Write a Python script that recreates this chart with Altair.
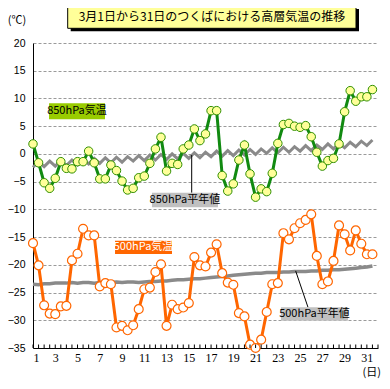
import altair as alt
import pandas as pd

# observation times (day of month, 09 and 21 JST -> half-day steps)
obs_x = [1, 1.5, 2, 2.5, 3, 3.5, 4, 4.5, 5, 5.5, 6, 6.5, 7, 7.5, 8, 8.5,
         9, 9.5, 10, 10.5, 11, 11.5, 12, 12.5, 13, 13.5, 14, 14.5, 15, 15.5,
         16, 16.5, 17, 17.5, 18, 18.5, 19, 19.5, 20, 20.5, 21, 21.5, 22, 22.5,
         23, 23.5, 24, 24.5, 25, 25.5, 26, 26.5, 27, 27.5, 28, 28.5, 29, 29.5,
         30, 30.5, 31, 31.5]

t850 = [1.8, -1.6, -5.2, -6.2, -4.4, -1.4, -2.6, -2.7, -1.4, -1.4,
        0.5, -1.6, -4.5, -4.5, -2.0, -3.0, -4.9, -6.5, -6.2, -4.3,
        -4.0, -1.7, 0.9, 3.0, -3.1, -1.7, -1.9, 0.9, 1.6, 4.5,
        2.4, 3.6, 7.8, 7.8, -3.9, -6.7, -5.4, -1.1, 1.6, -3.6,
        -7.8, -6.3, -6.8, -3.5, 1.9, 5.3, 5.5, 5.0, 4.8, 5.1,
        3.1, 0.3, -2.2, -1.2, -0.8, 1.8, 7.6, 11.4, 9.5, 10.3,
        10.3, 11.6]

n850 = [-2.4, -1.4, -2.3, -1.3, -2.2, -1.2, -2.1, -1.1, -2.0, -1.0,
        -1.8, -0.8, -1.7, -0.7, -1.6, -0.6, -1.5, -0.5, -1.3, -0.3,
        -1.2, -0.2, -1.1, -0.1, -1.0, 0.0, -0.9, 0.1, -0.8, 0.2,
        -0.7, 0.3, -0.5, 0.5, -0.4, 0.6, -0.3, 0.7, -0.2, 0.8,
        -0.1, 0.9, 0.1, 1.1, 0.2, 1.2, 0.3, 1.3, 0.5, 1.5,
        0.6, 1.6, 0.8, 1.8, 0.9, 1.9, 1.1, 2.1, 1.3, 2.3,
        1.5, 2.5]

t500 = [-16.1, -20.1, -27.3, -28.8, -28.9, -27.5, -27.4, -19.2, -18.0, -13.5,
        -14.7, -14.7, -23.9, -23.3, -23.5, -31.3, -31.0, -31.8, -30.9, -28.0,
        -24.4, -24.1, -21.3, -19.9, -31.0, -27.2, -28.0, -27.7, -26.9, -18.6,
        -20.1, -20.3, -17.8, -16.3, -21.5, -23.2, -23.6, -28.7, -29.3, -34.4,
        -35.0, -33.5, -28.5, -23.5, -23.3, -14.3, -15.4, -13.4, -12.5, -11.9,
        -10.9, -18.4, -23.5, -23.0, -19.3, -12.9, -14.5, -17.4, -13.8, -16.2,
        -18.1, -18.1]

n500 = [-23.5, -23.6, -23.4, -23.4, -23.3, -23.3, -23.3, -23.2, -23.3, -23.2,
        -23.2, -23.3, -23.2, -23.2, -23.2, -23.1, -23.2, -23.1, -23.1, -23.2,
        -23.1, -23.0, -23.0, -22.9, -22.9, -22.8, -22.7, -22.7, -22.6, -22.5,
        -22.5, -22.4, -22.3, -22.2, -22.1, -22.0, -21.9, -21.8, -21.7, -21.6,
        -21.5, -21.5, -21.4, -21.4, -21.4, -21.3, -21.3, -21.2, -21.2, -21.2,
        -21.1, -21.1, -21.0, -21.0, -20.9, -20.9, -20.8, -20.7, -20.6, -20.5,
        -20.4, -20.2]

day_labels = [1, 3, 5, 7, 9, 11, 13, 15, 17, 19, 21, 23, 25, 27, 29, 31]
y_ticks = [-35, -30, -25, -20, -15, -10, -5, 0, 5, 10, 15, 20]
tick_pos = obs_x + [32]

title_text = "3月1日から31日のつくばにおける高層気温の推移"

W, H = 345, 305
JP = "Noto Sans CJK JP"

rows = []
for name, vals in [("t850", t850), ("n850", n850), ("t500", t500), ("n500", n500)]:
    for xv, v in zip(obs_x, vals):
        rows.append({"x": xv, "v": v, "s": name})
df = pd.DataFrame(rows)

X = alt.X("x:Q", scale=alt.Scale(domain=[1, 32], nice=False, zero=False),
          axis=alt.Axis(values=day_labels, title=None, grid=False, ticks=False,
                        labelFont="Liberation Serif", labelFontSize=12,
                        labelColor="#000000", labelPadding=4, labelAngle=0,
                        domainColor="#000000", domainWidth=1))
Y = alt.Y("v:Q", scale=alt.Scale(domain=[-35, 20], nice=False, zero=False),
          axis=alt.Axis(values=y_ticks, title=None, grid=True, gridDash=[3, 2],
                        gridColor="#9a9a9a", gridWidth=1, ticks=False,
                        labelFont="Liberation Sans", labelFontSize=10.5,
                        labelColor="#000000", labelPadding=8,
                        domainColor="#000000", domainWidth=1))

base = alt.Chart(df).encode(x=X, y=Y)

n850_line = base.transform_filter(alt.datum.s == "n850").mark_line(
    color="#8a8a8a", strokeWidth=3)
n500_line = base.transform_filter(alt.datum.s == "n500").mark_line(
    color="#8a8a8a", strokeWidth=3.5)
t850_line = base.transform_filter(alt.datum.s == "t850").mark_line(
    color="#118a11", strokeWidth=3)
t850_pts = base.transform_filter(alt.datum.s == "t850").mark_point(
    shape="circle", filled=True, fill="#FFFF99", stroke="#2f8f00",
    strokeWidth=1, size=72, opacity=1)
t500_line = base.transform_filter(alt.datum.s == "t500").mark_line(
    color="#FF6600", strokeWidth=3)
t500_pts = base.transform_filter(alt.datum.s == "t500").mark_point(
    shape="circle", filled=True, fill="#FFFFFF", stroke="#FF6600",
    strokeWidth=1.2, size=80, opacity=1)

# inward minor ticks on x axis
ticks = alt.Chart(pd.DataFrame({"x": tick_pos})).mark_rule(
    color="#000000", strokeWidth=1).encode(
    x=X, y=alt.value(H), y2=alt.value(H - 3.5))

# annotation label boxes (data coordinates)
boxes = pd.DataFrame([
    {"x": 2.44, "x2": 7.47, "v": 9.15, "v2": 6.25, "c": "#99CC00"},
    {"x": 11.69, "x2": 17.62, "v": -7.0, "v2": -9.63, "c": "#C0C0C0"},
    {"x": 8.37, "x2": 13.49, "v": -15.65, "v2": -18.05, "c": "#FF6600"},
    {"x": 23.28, "x2": 29.30, "v": -27.66, "v2": -30.08, "c": "#C0C0C0"},
])
box_layer = alt.Chart(boxes).mark_rect().encode(
    x=X, x2="x2:Q", y=Y, y2="v2:Q",
    color=alt.Color("c:N", scale=None))

labels = pd.DataFrame([
    {"x": 4.95, "v": 7.7, "t": "850hPa気温", "c": "#000000"},
    {"x": 14.65, "v": -8.3, "t": "850hPa平年値", "c": "#000000"},
    {"x": 10.93, "v": -16.85, "t": "500hPa気温", "c": "#FFFFFF"},
    {"x": 26.29, "v": -28.87, "t": "500hPa平年値", "c": "#000000"},
])
label_layer = alt.Chart(labels).mark_text(
    font=JP, fontSize=11, align="center", baseline="middle").encode(
    x=X, y=Y, text="t:N", color=alt.Color("c:N", scale=None))

leaders = pd.DataFrame([
    {"x": 15.26, "x2": 15.26, "v": -0.2, "v2": -7.0},
    {"x": 24.6, "x2": 25.71, "v": -21.1, "v2": -27.66},
])
leader_layer = alt.Chart(leaders).mark_rule(color="#000000", strokeWidth=1).encode(
    x=X, x2="x2:Q", y=Y, y2="v2:Q")

one = pd.DataFrame({"k": [0]})
shadow = alt.Chart(one).mark_rect(color="#000000").encode(
    x=alt.value(37.7), x2=alt.value(326), y=alt.value(-34), y2=alt.value(-11.7))
tbox = alt.Chart(one).mark_rect(fill="#FFFF99", stroke="#000000", strokeWidth=1).encode(
    x=alt.value(34.7), x2=alt.value(323), y=alt.value(-37), y2=alt.value(-14.7))
ttext = alt.Chart(pd.DataFrame({"t": [title_text]})).mark_text(
    font=JP, fontSize=12, align="center", baseline="middle", color="#000000").encode(
    x=alt.value(179), y=alt.value(-25.8), text="t:N")
unit_c = alt.Chart(pd.DataFrame({"t": ["(℃)"]})).mark_text(
    font=JP, fontSize=11, align="center", baseline="middle", color="#000000").encode(
    x=alt.value(-16), y=alt.value(-22.5), text="t:N")
unit_d = alt.Chart(pd.DataFrame({"t": ["(日)"]})).mark_text(
    font=JP, fontSize=11, align="right", baseline="middle", color="#000000").encode(
    x=alt.value(348), y=alt.value(330), text="t:N")

chart = alt.layer(
    n850_line, n500_line, leader_layer, t850_line, t500_line, t850_pts, t500_pts,
    ticks, box_layer, label_layer, shadow, tbox, ttext, unit_c, unit_d
).properties(
    width=W, height=H,
    padding={"left": 25, "top": 35, "right": 4, "bottom": 33},
    autosize=alt.AutoSizeParams(type="none"),
    background="#FFFFFF",
).configure_view(strokeWidth=0)

chart.save("out.html", embed_options={"renderer": "svg", "actions": False})
